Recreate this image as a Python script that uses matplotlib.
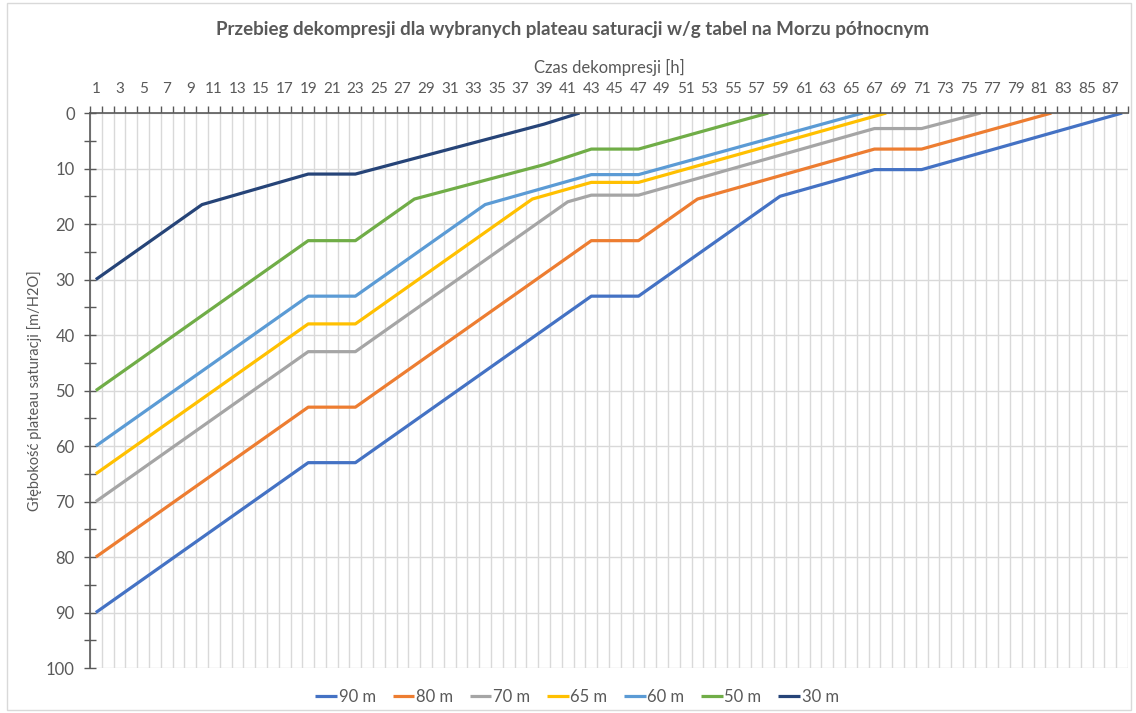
import matplotlib
matplotlib.use("Agg")
import matplotlib.pyplot as plt
from matplotlib.patches import Rectangle
import numpy as np

plt.rcParams['font.family'] = ['Lato', 'DejaVu Sans']

# breakpoints of each decompression profile: hour (category) and depth [m]
labels = ["90 m", "80 m", "70 m", "65 m", "60 m", "50 m", "30 m"]
colors = ["#4472C4", "#ED7D31", "#A5A5A5", "#FFC000", "#5B9BD5", "#70AD47", "#264478"]

h90 = [1, 19, 23, 43, 47, 59, 67, 71, 88]
d90 = [90, 63, 63, 33, 33, 15, 10.2, 10.2, 0]
h80 = [1, 19, 23, 43, 47, 52, 67, 71, 82]
d80 = [80, 53, 53, 23, 23, 15.5, 6.5, 6.5, 0]
h70 = [1, 19, 23, 41, 43, 47, 67, 71, 76]
d70 = [70, 43, 43, 16, 14.8, 14.8, 2.8, 2.8, 0]
h65 = [1, 19, 23, 38, 43, 47, 68]
d65 = [65, 38, 38, 15.5, 12.5, 12.5, 0]
h60 = [1, 19, 23, 34, 43, 47, 66]
d60 = [60, 33, 33, 16.5, 11.1, 11.1, 0]
h50 = [1, 19, 23, 28, 39, 43, 47, 58]
d50 = [50, 23, 23, 15.5, 9.3, 6.5, 6.5, 0]
h30 = [1, 10, 19, 23, 39, 42]
d30 = [30, 16.5, 11, 11, 2, 0]

hours = [h90, h80, h70, h65, h60, h50, h30]
depths = [d90, d80, d70, d65, d60, d50, d30]

n_cat = 88
txt = "#595959"

fig = plt.figure(figsize=(11.36, 7.13), dpi=100)
fig.patches.append(Rectangle((0.006, 0.004), 0.99, 0.992, transform=fig.transFigure,
                             fill=False, edgecolor="#D9D9D9", lw=1))
ax = fig.add_axes([0.0792, 0.0631, 0.9138, 0.7784])

for h, d, lab, col in zip(hours, depths, labels, colors):
    ax.plot(h, d, color=col, lw=2.3, label=lab, solid_capstyle="butt")

ax.set_xlim(0.5, n_cat + 0.5)
ax.set_ylim(100, 0)

ax.xaxis.tick_top()
ax.xaxis.set_label_position("top")
ax.set_xticks(np.arange(1, n_cat + 1, 2))
ax.set_xticks(np.arange(0.5, n_cat + 1, 1), minor=True)
ax.tick_params(axis="x", which="major", length=0, pad=12, labelsize=11, labelcolor=txt)
ax.tick_params(axis="x", which="minor", length=5, direction="out", color="#595959", width=1)

ax.set_yticks(np.arange(0, 101, 10))
ax.set_yticks(np.arange(5, 100, 10), minor=True)
ax.tick_params(axis="y", which="both", length=8, direction="inout", color="#595959",
               width=1, pad=7, labelsize=12, labelcolor=txt)

ax.grid(True, which="minor", axis="x", color="#D9D9D9", lw=1)
ax.grid(True, which="major", axis="y", color="#D9D9D9", lw=1)
ax.set_axisbelow(True)

for s in ["right", "bottom"]:
    ax.spines[s].set_visible(False)
for s in ["left", "top"]:
    ax.spines[s].set_color("#595959")
    ax.spines[s].set_linewidth(1.2)

ax.set_xlabel("Czas dekompresji [h]", fontsize=12, color=txt, labelpad=7)
ax.set_ylabel("Głębokość plateau saturacji [m/H2O]", fontsize=10.5, color=txt)
ax.yaxis.set_label_coords(-0.046, 0.5)

fig.suptitle("Przebieg dekompresji dla wybranych plateau saturacji w/g tabel na Morzu północnym",
             x=0.504, y=0.971, fontsize=13.5, fontweight="bold", color=txt)

fig.legend(loc="center", bbox_to_anchor=(0.508, 0.0225), ncol=7, frameon=False,
           fontsize=12, handlelength=1.3, handletextpad=0.1, columnspacing=1.0,
           labelcolor=txt)

fig.savefig("out.png", dpi=100)
